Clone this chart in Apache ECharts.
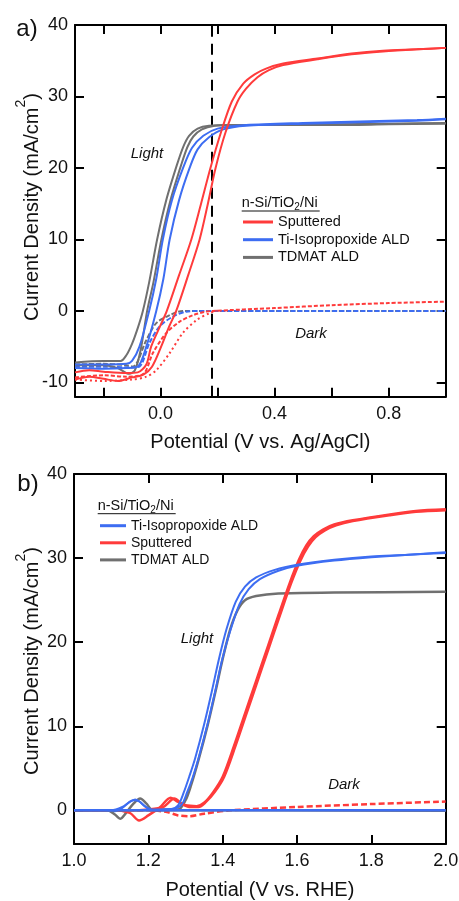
<!DOCTYPE html>
<html>
<head>
<meta charset="utf-8">
<script src="https://cdn.jsdelivr.net/npm/echarts@6/dist/echarts.min.js"></script>
<style>html,body{margin:0;padding:0;background:#fff}#c{width:459px;height:901px}</style>
</head>
<body>
<div id="c"></div>
<script>
// ---------- Panel a data (V vs. Ag/AgCl, mA/cm^2) ----------
const aXTicks = [-0.2, 0, 0.2, 0.4, 0.6, 0.8];
const aXLabels = [0, 0.4, 0.8];
const aYTicks = [-10, 0, 10, 20, 30, 40];
const aDashX = 0.184;

const aRedLight1 = [[-0.30,-8.6],[-0.25,-8.3],[-0.2,-8.5],[-0.12,-8.7],[-0.08,-8.6],[-0.05,-7.5],[-0.033,-5],[0.0,-2.0],[0.022,0],[0.065,5],[0.108,10],[0.142,15],[0.175,20],[0.212,25],[0.25,29.3],[0.29,31.8],[0.33,33.1],[0.37,33.9],[0.43,34.6],[0.55,35.3],[0.67,36.0],[0.78,36.4],[0.9,36.6],[1.0,36.8]];
const aRedLight2 = [[-0.30,-9.6],[-0.25,-9.2],[-0.2,-9.5],[-0.15,-9.8],[-0.10,-9.3],[-0.06,-8.9],[-0.03,-7.8],[0.002,-5],[0.03,-2.2],[0.055,0],[0.097,5],[0.137,10],[0.166,15],[0.193,20],[0.228,25],[0.27,29.3],[0.30,31.1],[0.34,32.7],[0.38,33.7],[0.43,34.4],[0.55,35.2],[0.67,35.9],[0.78,36.3],[0.9,36.6],[1.0,36.8]];
const aBlueLight1 = [[-0.30,-7.5],[-0.2,-7.5],[-0.12,-7.4],[-0.10,-7.0],[-0.074,-5],[-0.04,0],[-0.015,4.5],[0.008,10],[0.04,15.5],[0.079,20],[0.11,22.8],[0.15,24.5],[0.2,25.5],[0.3,26.0],[0.5,26.3],[0.7,26.5],[0.9,26.7],[1.0,26.9]];
const aBlueLight2 = [[-0.30,-8.0],[-0.2,-8.1],[-0.12,-8.0],[-0.08,-7.8],[-0.05,-5],[-0.015,0],[0.01,4.5],[0.032,10],[0.065,15.5],[0.102,20],[0.13,22.6],[0.17,24.3],[0.22,25.4],[0.3,25.9],[0.5,26.2],[0.7,26.4],[0.9,26.6],[1.0,26.8]];
const aGrayLight1 = [[-0.30,-7.2],[-0.2,-7.0],[-0.14,-7.0],[-0.12,-6.2],[-0.10,-4.6],[-0.08,-2.4],[-0.062,0],[-0.04,4],[-0.012,10],[0.02,15.5],[0.058,20.5],[0.08,23],[0.10,24.5],[0.13,25.5],[0.17,25.9],[0.25,26.0],[0.4,26.0],[0.6,26.1],[0.8,26.2],[1.0,26.3]];
const aGrayLight2 = [[-0.30,-7.6],[-0.2,-7.6],[-0.15,-8.0],[-0.11,-8.8],[-0.09,-8.3],[-0.07,-5.5],[-0.047,0],[-0.025,4],[0.003,10],[0.035,15.5],[0.073,20.5],[0.095,23],[0.115,24.4],[0.145,25.4],[0.19,25.9],[0.25,26.0],[0.4,26.0],[0.6,26.0],[0.8,26.1],[1.0,26.2]];
const aRedDark1 = [[-0.30,-9.3],[-0.2,-9.0],[-0.12,-9.2],[-0.06,-8.8],[-0.027,-5.9],[0.02,-3.1],[0.067,-1.5],[0.113,-0.6],[0.16,-0.1],[0.184,0],[0.4,0.4],[0.6,0.8],[0.8,1.1],[1.0,1.3]];
const aRedDark2 = [[-0.30,-9.6],[-0.2,-9.8],[-0.1,-9.6],[-0.05,-9.2],[-0.015,-8.3],[0.032,-5.9],[0.078,-3.1],[0.126,-1.3],[0.172,-0.3],[0.2,0.05]];
const aBlueDark = [[-0.30,-7.8],[-0.2,-7.8],[-0.1,-7.9],[-0.074,-7.8],[-0.039,-4.5],[-0.004,-2.2],[0.043,-0.8],[0.09,-0.1],[0.15,0],[0.5,0],[1.0,0]];
const aGrayDark = [[-0.30,-7.5],[-0.2,-7.4],[-0.12,-7.6],[-0.097,-7.8],[-0.05,-4.1],[-0.015,-1.7],[0.032,-0.6],[0.078,0],[0.5,0],[1.0,0]];

// ---------- Panel b data (V vs. RHE, mA/cm^2) ----------
const bXTicks = [1.0, 1.2, 1.4, 1.6, 1.8, 2.0];
const bYTicks = [0, 10, 20, 30, 40];

const bBlueLight1 = [[1.0,0],[1.08,0],[1.11,-0.1],[1.13,0.3],[1.15,1.0],[1.165,1.3],[1.18,0.9],[1.2,0.2],[1.22,0],[1.26,0.1],[1.28,0.6],[1.295,2.1],[1.31,4.0],[1.326,6.2],[1.35,10.2],[1.371,14.2],[1.39,18],[1.41,21.5],[1.435,24.8],[1.46,26.6],[1.49,27.7],[1.54,28.6],[1.6,29.2],[1.7,29.8],[1.8,30.2],[1.9,30.4],[2.0,30.7]];
const bBlueLight2 = [[1.0,0],[1.1,0],[1.13,0.4],[1.16,1.2],[1.175,1.1],[1.19,0.5],[1.21,0.1],[1.27,0.2],[1.29,0.7],[1.304,2.1],[1.32,4],[1.335,6.2],[1.359,10.2],[1.38,14.2],[1.399,18],[1.42,21.3],[1.445,24.5],[1.47,26.3],[1.5,27.5],[1.55,28.5],[1.6,29.1],[1.7,29.7],[1.8,30.1],[1.9,30.4],[2.0,30.6]];
const bGrayLight = [[1.0,0],[1.09,0],[1.11,-0.5],[1.124,-1.0],[1.14,-0.3],[1.16,0.8],[1.178,1.4],[1.195,0.8],[1.21,0.1],[1.28,0.1],[1.30,1.2],[1.315,3.0],[1.335,6.0],[1.36,10.2],[1.381,14.2],[1.40,18],[1.42,21.5],[1.44,23.8],[1.46,25.0],[1.49,25.5],[1.55,25.8],[1.7,25.9],[2.0,26.0]];
const bRedLight1 = [[1.0,0],[1.1,0],[1.15,-0.3],[1.175,-1.2],[1.2,-0.6],[1.23,0.3],[1.26,1.5],[1.28,1.0],[1.3,0.6],[1.33,0.5],[1.35,0.9],[1.375,2.2],[1.40,4.0],[1.43,7.6],[1.46,11.5],[1.49,15.4],[1.52,19.3],[1.55,23.2],[1.58,27.0],[1.605,29.8],[1.625,31.5],[1.645,32.6],[1.67,33.4],[1.70,34.0],[1.75,34.5],[1.85,35.2],[1.92,35.6],[2.0,35.8]];
const bRedLight2 = [[1.0,0],[1.15,0],[1.2,0.1],[1.24,0.4],[1.27,1.4],[1.29,0.8],[1.31,0.4],[1.335,0.4],[1.355,1.0],[1.379,2.2],[1.404,4.0],[1.434,7.6],[1.464,11.5],[1.494,15.4],[1.524,19.3],[1.554,23.2],[1.584,27.0],[1.609,29.7],[1.63,31.4],[1.65,32.5],[1.675,33.3],[1.705,33.9],[1.75,34.4],[1.85,35.1],[1.92,35.5],[2.0,35.7]];
const bRedDark = [[1.0,0],[1.2,0],[1.25,-0.2],[1.28,-0.6],[1.31,-0.7],[1.35,-0.4],[1.42,0],[1.6,0.4],[1.8,0.75],[2.0,1.05]];
const bBlueDark = [[1.0,0],[1.5,0],[2.0,0]];
const bGrayDark = [[1.0,0],[1.5,0],[2.0,-0.05]];

const RED = '#ff3b3b', BLUE = '#3d6df2', GRAY = '#707070';
const FONT = 'Liberation Sans, Arial, sans-serif';
const Y_TITLE = 'Current Density (mA/cm{sup|2})';

const chart = echarts.init(document.getElementById('c'), null, {renderer: 'canvas'});

function xAxisCfg(gridIndex, min, max, ticks, labels, name, pos, showLabel) {
  return {
    type: 'value', gridIndex, min, max, position: pos,
    name: showLabel ? name : '', nameLocation: 'middle', nameGap: 36, nameMoveOverlap: false,
    nameTextStyle: {fontSize: 20, color: '#111', fontFamily: FONT},
    axisLine: {show: true, onZero: false, lineStyle: {color: '#000', width: 2}},
    axisTick: {show: true, inside: true, length: 9, lineStyle: {color: '#000', width: 2}, customValues: ticks},
    axisLabel: {show: showLabel, fontSize: 18, color: '#111', fontFamily: FONT, margin: 8,
      customValues: labels, formatter: v => v.toFixed(1)},
    splitLine: {show: false}
  };
}
function yAxisCfg(gridIndex, min, max, ticks, pos, showLabel) {
  return {
    type: 'value', gridIndex, min, max, position: pos,
    axisLine: {show: true, onZero: false, lineStyle: {color: '#000', width: 2}},
    axisTick: {show: true, inside: true, length: 9, lineStyle: {color: '#000', width: 2}, customValues: ticks},
    axisLabel: {show: showLabel, fontSize: 18, color: '#111', fontFamily: FONT, margin: 7,
      customValues: ticks, formatter: v => String(v)},
    splitLine: {show: false}
  };
}

function line(name, data, color, xi, width, dash, z) {
  return {
    type: 'line', name, data, xAxisIndex: xi, yAxisIndex: xi,
    symbol: 'none', smooth: 0.3, silent: true, z: z || 2,
    lineStyle: {color, width: width || 2, type: dash || 'solid'},
    itemStyle: {color}
  };
}

const series = [
  // panel a
  line('TDMAT ALD dark', aGrayDark, GRAY, 0, 2, [5, 2], 2),
  line('Ti-Isopropoxide ALD dark', aBlueDark, BLUE, 0, 2, [5, 2], 3),
  line('Sputtered dark', aRedDark1, RED, 0, 2, [4, 2], 4),
  line('Sputtered dark', aRedDark2, RED, 0, 2, [2, 3], 4),
  line('TDMAT ALD', aGrayLight1, GRAY, 0, 2, null, 5),
  line('TDMAT ALD', aGrayLight2, GRAY, 0, 2, null, 5),
  line('Ti-Isopropoxide ALD', aBlueLight1, BLUE, 0, 2, null, 6),
  line('Ti-Isopropoxide ALD', aBlueLight2, BLUE, 0, 2, null, 6),
  line('Sputtered', aRedLight1, RED, 0, 2, null, 7),
  line('Sputtered', aRedLight2, RED, 0, 2, null, 7),
  // dashed reference line (panel a)
  {type: 'line', name: 'ref', data: [], xAxisIndex: 0, yAxisIndex: 0, silent: true,
   markLine: {silent: true, symbol: 'none', label: {show: false},
     lineStyle: {color: '#000', width: 2, type: [11, 7]}, data: [{xAxis: aDashX}]}},
  // panel b
  line('Sputtered dark b', bRedDark, RED, 2, 2.5, [6, 3], 3),
  line('TDMAT ALD', bGrayLight, GRAY, 2, 2.5, null, 4),
  line('Sputtered', bRedLight1, RED, 2, 2.5, null, 5),
  line('Sputtered', bRedLight2, RED, 2, 2.5, null, 5),
  line('Ti-Isopropoxide ALD', bBlueLight1, BLUE, 2, 2, null, 6),
  line('Ti-Isopropoxide ALD', bBlueLight2, BLUE, 2, 2, null, 6),
  line('TDMAT ALD dark b', bGrayDark, GRAY, 2, 2.5, null, 6),
  line('Ti-Isopropoxide ALD dark b', bBlueDark, BLUE, 2, 2.5, null, 7)
];

function label(text, x, y, size, italic) {
  return {type: 'text', x, y, silent: true, z: 20,
    style: {text, fill: '#111', font: (italic ? 'italic ' : '') + size + 'px ' + FONT,
      align: 'center', verticalAlign: 'middle'}};
}
function yTitle(x, y) {
  return {type: 'text', x, y, rotation: Math.PI / 2, silent: true, z: 20,
    style: {text: Y_TITLE, fill: '#111', fontSize: 20, fontFamily: FONT,
      align: 'center', verticalAlign: 'middle',
      rich: {sup: {fontSize: 14, fill: '#111', fontFamily: FONT, padding: [0, 0, 22, 0]}}}};
}
function legTitle(x, y, w) {
  return [
    {type: 'text', x, y, silent: true, z: 20,
     style: {text: 'n-Si/TiO{sub|2}/Ni', fill: '#111', fontSize: 14.5, fontFamily: FONT,
       align: 'left', verticalAlign: 'middle',
       rich: {sub: {fontSize: 10, fill: '#111', fontFamily: FONT, padding: [9, 0, 0, 0]}}}},
    {type: 'line', silent: true, z: 20, shape: {x1: x, y1: y + 8, x2: x + w, y2: y + 8},
     style: {stroke: '#111', lineWidth: 1}}
  ];
}

const option = {
  backgroundColor: '#fff',
  animation: false,
  textStyle: {fontFamily: FONT},
  grid: [
    {left: 75, top: 25, width: 370.7, height: 371.7, containLabel: false, outerBoundsMode: 'none'},
    {left: 74, top: 474, width: 371.7, height: 370, containLabel: false, outerBoundsMode: 'none'}
  ],
  xAxis: [
    xAxisCfg(0, -0.3, 1.0, aXTicks, aXLabels, 'Potential (V vs. Ag/AgCl)', 'bottom', true),
    xAxisCfg(0, -0.3, 1.0, aXTicks, aXLabels, '', 'top', false),
    xAxisCfg(1, 1.0, 2.0, bXTicks, bXTicks, 'Potential (V vs. RHE)', 'bottom', true),
    xAxisCfg(1, 1.0, 2.0, bXTicks, bXTicks, '', 'top', false)
  ],
  yAxis: [
    yAxisCfg(0, -12, 40, aYTicks, 'left', true),
    yAxisCfg(0, -12, 40, aYTicks, 'right', false),
    yAxisCfg(1, -4, 40, bYTicks, 'left', true),
    yAxisCfg(1, -4, 40, bYTicks, 'right', false)
  ],
  legend: [
    {orient: 'vertical', left: 243, top: 214, icon: 'rect', itemWidth: 30, itemHeight: 3,
     itemGap: 1.7, selectedMode: false, padding: 0,
     textStyle: {fontSize: 14.5, color: '#111', fontFamily: FONT, lineHeight: 16},
     data: ['Sputtered', 'Ti-Isopropoxide ALD', 'TDMAT ALD']},
    {orient: 'vertical', left: 100, top: 517.7, icon: 'rect', itemWidth: 26, itemHeight: 3,
     itemGap: 1.1, selectedMode: false, padding: 0,
     textStyle: {fontSize: 14, color: '#111', fontFamily: FONT, lineHeight: 16},
     data: ['Ti-Isopropoxide ALD', 'Sputtered', 'TDMAT ALD']}
  ],
  graphic: [
    label('a)', 27, 29, 24, false),
    label('b)', 28, 484, 24, false),
    yTitle(32, 207),
    yTitle(32, 661),
    label('Light', 147, 154, 15, true),
    label('Dark', 311, 334, 15, true),
    label('Light', 197, 639, 15, true),
    label('Dark', 344, 785, 15, true),
    ...legTitle(241.7, 203, 78),
    ...legTitle(97.7, 505.7, 78)
  ],
  series
};
chart.setOption(option);
</script>
</body>
</html>
